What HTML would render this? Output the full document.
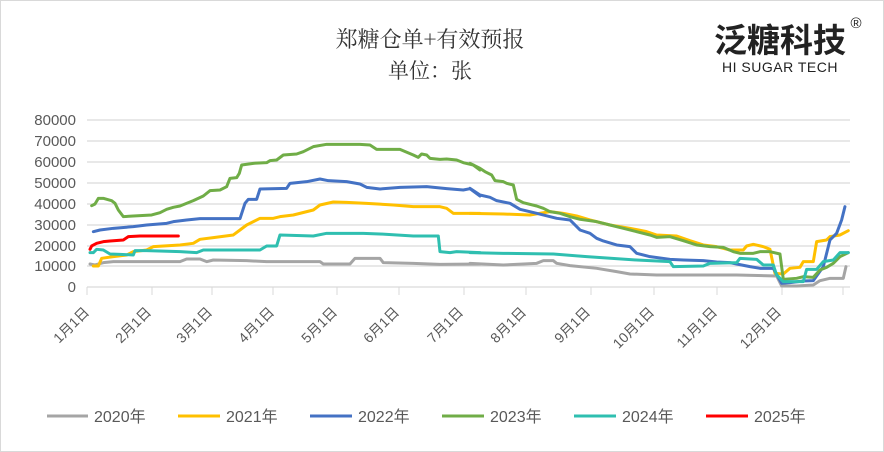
<!DOCTYPE html>
<html><head><meta charset="utf-8"><style>
body{margin:0;background:#fff}
svg{display:block;font-family:"Liberation Sans","Noto Sans CJK SC",sans-serif}
</style></head><body>
<svg width="884" height="452" viewBox="0 0 884 452" xmlns="http://www.w3.org/2000/svg">
<rect x="0.5" y="0.5" width="883" height="451" fill="#fff" stroke="#d9d9d9"/>
<text x="430" y="47" text-anchor="middle" font-size="22" fill="#333" font-family="Noto Serif CJK SC,serif">郑糖仓单+有效预报</text>
<text x="430" y="78" text-anchor="middle" font-size="21" fill="#333" font-family="Noto Serif CJK SC,serif">单位：张</text>
<text x="780" y="52" text-anchor="middle" font-size="33" font-weight="bold" fill="#222" font-family="Noto Sans CJK SC,sans-serif">泛糖科技</text>
<text x="780" y="72" text-anchor="middle" font-size="14" fill="#222" letter-spacing="0.5">HI SUGAR TECH</text>
<text x="856" y="28" text-anchor="middle" font-size="15" fill="#222">®</text>
<g stroke="#d9d9d9" stroke-width="1.3">
<line x1="87" x2="850" y1="120" y2="120"/><line x1="87" x2="850" y1="141" y2="141"/><line x1="87" x2="850" y1="162" y2="162"/><line x1="87" x2="850" y1="183" y2="183"/><line x1="87" x2="850" y1="204" y2="204"/><line x1="87" x2="850" y1="225" y2="225"/><line x1="87" x2="850" y1="246" y2="246"/><line x1="87" x2="850" y1="266" y2="266"/><line x1="87" x2="850" y1="287" y2="287"/>
<g stroke-width="1"><line x1="87" x2="87" y1="287" y2="295"/><line x1="152" x2="152" y1="287" y2="295"/><line x1="212" x2="212" y1="287" y2="295"/><line x1="273" x2="273" y1="287" y2="295"/><line x1="337" x2="337" y1="287" y2="295"/><line x1="399" x2="399" y1="287" y2="295"/><line x1="464" x2="464" y1="287" y2="295"/><line x1="526" x2="526" y1="287" y2="295"/><line x1="591" x2="591" y1="287" y2="295"/><line x1="654" x2="654" y1="287" y2="295"/><line x1="717" x2="717" y1="287" y2="295"/><line x1="782" x2="782" y1="287" y2="295"/><line x1="843" x2="843" y1="287" y2="295"/></g>
</g>
<g font-size="15" fill="#595959" text-anchor="end">
<text x="76" y="125">80000</text><text x="76" y="146">70000</text><text x="76" y="167">60000</text><text x="76" y="188">50000</text><text x="76" y="209">40000</text><text x="76" y="230">30000</text><text x="76" y="251">20000</text><text x="76" y="271">10000</text><text x="76" y="292">0</text>
</g>
<g font-size="14" fill="#595959" text-anchor="end">
<text transform="translate(90,313) rotate(-45)">1月1日</text>
<text transform="translate(152,313) rotate(-45)">2月1日</text>
<text transform="translate(213,313) rotate(-45)">3月1日</text>
<text transform="translate(275,313) rotate(-45)">4月1日</text>
<text transform="translate(338,313) rotate(-45)">5月1日</text>
<text transform="translate(400,313) rotate(-45)">6月1日</text>
<text transform="translate(464,313) rotate(-45)">7月1日</text>
<text transform="translate(527,313) rotate(-45)">8月1日</text>
<text transform="translate(591,313) rotate(-45)">9月1日</text>
<text transform="translate(655,313) rotate(-45)">10月1日</text>
<text transform="translate(718,313) rotate(-45)">11月1日</text>
<text transform="translate(782,313) rotate(-45)">12月1日</text>
</g>
<g fill="none" stroke-width="9" stroke-linejoin="round" stroke-linecap="round">
<g transform="translate(80,110) scale(0.3333)">
<polyline stroke="#a5a5a5" points="30,462 45,465 70,458 100,455 300,455 320,447 360,447 380,455 400,450 500,452 560,455 720,455 730,462 810,462 825,445 900,445 910,458 1000,460 1080,463 1200,462"/>
<polyline stroke="#ffc000" points="40,468 55,468 65,445 100,440 140,435 160,425 200,420 220,410 300,405 340,400 360,388 400,383 460,375 480,360 500,345 540,325 580,325 600,320 640,315 700,300 720,285 760,276 800,277 860,280 940,285 1000,290 1080,290 1100,295 1120,310 1200,310"/>
<polyline stroke="#4472c4" points="40,365 60,360 100,355 160,350 200,345 260,340 280,335 320,330 360,326 480,326 495,280 505,268 530,268 540,237 620,235 630,220 680,215 720,207 745,212 800,215 840,222 860,232 900,237 960,232 1040,230 1100,236 1150,240 1170,236 1200,258"/>
<polyline stroke="#70ad47" points="35,287 45,282 55,265 70,265 95,272 105,280 115,300 130,320 160,318 215,315 240,308 260,298 280,292 300,288 340,272 370,258 390,242 420,240 440,230 450,205 470,203 478,190 485,165 520,160 560,158 570,152 590,150 610,135 650,132 670,125 700,110 740,103 840,103 870,105 890,118 960,118 1000,135 1015,142 1025,132 1040,135 1050,145 1080,148 1100,147 1130,150 1150,158 1180,165 1200,180"/>
<polyline stroke="#2fbfb0" points="30,428 40,428 50,418 70,420 90,432 120,433 160,435 165,422 200,422 300,425 350,428 370,420 450,420 540,420 560,408 590,408 600,375 700,378 740,370 850,370 900,372 1000,378 1075,378 1080,425 1110,428 1130,425 1200,428"/>
<polyline stroke="#ff0000" points="30,418 35,408 50,400 70,395 90,393 130,390 145,380 180,378 240,378 295,378"/>
</g>
<g transform="translate(470,110) scale(0.3333)">
<polyline stroke="#a5a5a5" points="0,460 100,465 200,460 220,452 250,452 260,460 300,467 380,475 440,485 480,492 560,495 800,495 920,498 935,528 980,528 1030,525 1050,512 1080,505 1120,505 1128,470"/>
<polyline stroke="#ffc000" points="0,310 100,312 180,315 240,305 280,310 320,318 360,330 420,345 480,355 530,365 560,375 620,378 660,392 700,405 740,410 780,420 820,420 830,408 850,403 880,410 900,418 915,490 940,492 960,475 990,472 1000,455 1030,455 1040,395 1070,390 1080,380 1110,375 1135,362"/>
<polyline stroke="#4472c4" points="0,235 30,255 60,262 80,272 120,280 150,298 200,310 260,325 300,330 330,360 360,370 380,385 400,393 440,405 480,410 500,430 540,440 600,448 640,450 700,452 740,456 780,458 800,462 840,470 870,475 910,475 935,520 960,518 1000,513 1030,512 1060,470 1080,390 1100,370 1115,330 1125,290"/>
<polyline stroke="#70ad47" points="0,160 30,175 45,185 65,195 75,212 100,215 110,220 130,225 140,268 160,278 200,288 220,295 240,305 270,310 300,320 330,328 380,335 420,345 460,355 500,365 540,375 560,382 600,380 640,392 680,405 720,410 760,412 790,425 810,430 850,430 870,425 900,425 930,432 940,508 980,505 1000,500 1030,502 1050,480 1070,472 1090,460 1110,440 1135,428"/>
<polyline stroke="#2fbfb0" points="0,428 100,430 250,432 350,440 500,450 600,455 610,470 700,468 720,460 800,458 810,445 860,448 880,465 910,465 920,495 940,515 1000,515 1010,478 1040,478 1060,455 1090,450 1110,428 1135,428"/>
</g>
</g>
<g font-size="16" fill="#595959">
<line x1="47" x2="88" y1="416" y2="416" stroke="#a5a5a5" stroke-width="3"/><text x="94" y="422">2020年</text>
<line x1="178" x2="220" y1="416" y2="416" stroke="#ffc000" stroke-width="3"/><text x="226" y="422">2021年</text>
<line x1="310" x2="352" y1="416" y2="416" stroke="#4472c4" stroke-width="3"/><text x="358" y="422">2022年</text>
<line x1="442" x2="484" y1="416" y2="416" stroke="#70ad47" stroke-width="3"/><text x="490" y="422">2023年</text>
<line x1="574" x2="616" y1="416" y2="416" stroke="#2fbfb0" stroke-width="3"/><text x="622" y="422">2024年</text>
<line x1="706" x2="748" y1="416" y2="416" stroke="#ff0000" stroke-width="3"/><text x="754" y="422">2025年</text>
</g>
</svg>
</body></html>
